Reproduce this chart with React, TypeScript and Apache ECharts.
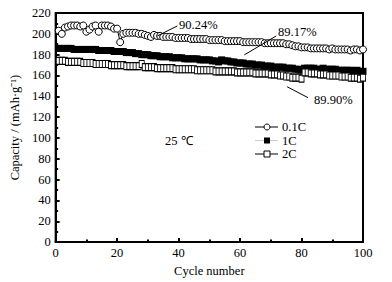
import React, { useEffect, useRef } from "react";
import * as echarts from "echarts";

const cycles: number[] = Array.from({ length: 100 }, (_, i) => i + 1);

const cap01C: number[] = [
  203, 200, 206, 207, 208, 208, 208, 207, 208, 202,
  204, 207, 208, 202, 208, 208, 208, 207, 205, 205,
  192, 200, 201, 201, 201, 201, 200, 200, 199, 198,
  197, 199, 198, 198, 197, 197, 197, 197, 196, 196,
  196, 196, 196, 195, 195, 195, 195, 195, 195, 194,
  194, 194, 194, 194, 193, 193, 193, 193, 193, 193,
  192, 192, 192, 192, 192, 192, 192, 191, 191, 191,
  191, 191, 191, 191, 190, 190, 189, 188, 188, 187,
  187, 187, 186, 186, 186, 186, 186, 186, 185, 186,
  185, 185, 185, 185, 185, 184, 185, 185, 184, 185,
];

const cap1C: number[] = [
  186, 186, 186, 186, 186, 185, 185, 185, 185, 185,
  185, 185, 185, 184, 184, 184, 184, 184, 183, 183,
  183, 183, 182, 182, 182, 181, 181, 180, 180, 180,
  179, 179, 179, 178, 178, 178, 178, 177, 177, 177,
  177, 176, 176, 176, 176, 176, 175, 175, 175, 175,
  174, 174, 173, 175, 174, 174, 173, 173, 172, 172,
  172, 171, 171, 171, 170, 170, 170, 169, 169, 169,
  168, 168, 168, 168, 167, 167, 167, 166, 166, 165,
  167, 167, 167, 167, 166, 166, 167, 166, 166, 166,
  166, 165, 165, 165, 165, 165, 164, 165, 164, 164,
];

const cap2C: number[] = [
  174, 174, 174, 173, 173, 173, 173, 173, 172, 172,
  172, 172, 171, 171, 171, 171, 171, 170, 170, 170,
  170, 170, 169, 169, 169, 169, 169, 171, 168, 168,
  168, 168, 167, 167, 167, 167, 167, 167, 166, 166,
  166, 166, 166, 166, 166, 165, 165, 165, 165, 165,
  165, 164, 164, 164, 164, 164, 164, 164, 163, 163,
  163, 163, 163, 163, 162, 162, 162, 162, 162, 161,
  161, 161, 160, 160, 159, 159, 158, 158, 158, 157,
  163, 163, 162, 162, 162, 161, 161, 161, 160, 160,
  160, 160, 159, 159, 159, 158, 158, 158, 157, 158,
];

const seriesNames: string[] = ["0.1C", "1C", "2C"];
const retentionLabels: string[] = ["90.24%", "89.17%", "89.90%"];
const tempLabel = "25 \u2103";

// arrows in data coordinates [fromX, fromY, toX, toY]
const arrows: number[][] = [
  [33.1, 198, 39.6, 207.6],
  [61.4, 179.8, 71.8, 198],
  [75.3, 149.2, 82.1, 138.7],
];

const FONT = "'Times New Roman', 'Liberation Serif', serif";

export default function App() {
  const ref = useRef<HTMLDivElement>(null);
  useEffect(() => {
    document.body.style.margin = "0";
    if (!ref.current) return;
    const chart = echarts.init(ref.current, undefined, { renderer: "svg" });
    const zip = (arr: number[]) => arr.map((v, i) => [cycles[i], v]);

    // custom legend
    const lgX0 = 255;
    const lgX1 = 278;
    const lgMid = 267;
    const lgRows = [127, 140.5, 154];
    const lgLineColors = ["#000", "#ccc", "#000"];
    const legendEls: any[] = [];
    seriesNames.forEach((name, i) => {
      const y = lgRows[i];
      legendEls.push({
        type: "line",
        shape: { x1: lgX0, y1: y, x2: lgX1, y2: y },
        style: { stroke: lgLineColors[i], lineWidth: 1 },
      });
      if (i === 0) {
        legendEls.push({
          type: "circle",
          shape: { cx: lgMid, cy: y, r: 3 },
          style: { fill: "#fff", stroke: "#000", lineWidth: 1 },
        });
      } else if (i === 1) {
        legendEls.push({
          type: "rect",
          shape: { x: lgMid - 3, y: y - 3, width: 6, height: 6 },
          style: { fill: "#000" },
        });
      } else {
        legendEls.push({
          type: "rect",
          shape: { x: lgMid - 3, y: y - 3, width: 6, height: 6 },
          style: { fill: "#fff", stroke: "#000", lineWidth: 1 },
        });
      }
      legendEls.push({
        type: "text",
        x: 282,
        y: y,
        style: { text: name, font: `12.5px ${FONT}`, fill: "#000", verticalAlign: "middle" },
      });
    });

    chart.setOption({
      animation: false,
      backgroundColor: "#fff",
      textStyle: { fontFamily: FONT, color: "#000" },
      grid: {
        left: 55,
        right: 29,
        top: 13,
        bottom: 39,
        show: true,
        borderColor: "#000",
        borderWidth: 2,
        backgroundColor: "transparent",
      },
      xAxis: {
        type: "value",
        min: 0,
        max: 100,
        interval: 20,
        name: "Cycle number",
        nameLocation: "middle",
        nameGap: 20,
        nameTextStyle: { fontFamily: FONT, fontSize: 12.5, color: "#000" },
        axisLine: { lineStyle: { color: "#000", width: 2 } },
        axisTick: { inside: true, length: 4, lineStyle: { color: "#000", width: 2 } },
        minorTick: { show: true, splitNumber: 2, length: 2.5, lineStyle: { color: "#000", width: 2 } },
        axisLabel: { fontFamily: FONT, fontSize: 12.5, color: "#000", margin: 4 },
        splitLine: { show: false },
      },
      yAxis: {
        type: "value",
        min: 0,
        max: 220,
        interval: 20,
        name: "Capacity / (mAh\u00b7g\u207b\u00b9)",
        nameLocation: "middle",
        nameGap: 32,
        nameTextStyle: { fontFamily: FONT, fontSize: 12.5, color: "#000" },
        axisLine: { lineStyle: { color: "#000", width: 2 } },
        axisTick: { inside: true, length: 4, lineStyle: { color: "#000", width: 2 } },
        minorTick: { show: true, splitNumber: 2, length: 2.5, lineStyle: { color: "#000", width: 2 } },
        axisLabel: { fontFamily: FONT, fontSize: 12.5, color: "#000", margin: 5 },
        splitLine: { show: false },
      },
      series: [
        {
          name: seriesNames[0],
          type: "line",
          data: zip(cap01C),
          symbol: "circle",
          symbolSize: 7,
          showAllSymbol: true,
          lineStyle: { color: "#000", width: 1 },
          itemStyle: { color: "#fff", borderColor: "#000", borderWidth: 1 },
          markLine: {
            silent: true,
            symbol: ["none", "arrow"],
            symbolSize: [0, 7],
            label: { show: false },
            lineStyle: { color: "#000", width: 1, type: "solid" },
            data: arrows.map((a) => [{ coord: [a[0], a[1]] }, { coord: [a[2], a[3]] }]),
          },
        },
        {
          name: seriesNames[1],
          type: "line",
          data: zip(cap1C),
          symbol: "rect",
          symbolSize: 7,
          showAllSymbol: true,
          lineStyle: { color: "#bbb", width: 1 },
          itemStyle: { color: "#000", borderColor: "#000", borderWidth: 0 },
        },
        {
          name: seriesNames[2],
          type: "line",
          data: zip(cap2C),
          symbol: "rect",
          symbolSize: [5, 7],
          showAllSymbol: true,
          lineStyle: { color: "#000", width: 1 },
          itemStyle: { color: "#fff", borderColor: "#000", borderWidth: 1 },
        },
      ],
      graphic: [
        { type: "text", left: 179, top: 18, style: { text: retentionLabels[0], font: `12.5px ${FONT}`, fill: "#000" } },
        { type: "text", left: 278, top: 25, style: { text: retentionLabels[1], font: `12.5px ${FONT}`, fill: "#000" } },
        { type: "text", left: 314, top: 93, style: { text: retentionLabels[2], font: `12.5px ${FONT}`, fill: "#000" } },
        { type: "text", left: 165, top: 134, style: { text: tempLabel, font: `12.5px ${FONT}`, fill: "#000" } },
        ...legendEls,
      ],
    });
    return () => chart.dispose();
  }, []);
  return <div ref={ref} style={{ width: 392, height: 282 }} />;
}
